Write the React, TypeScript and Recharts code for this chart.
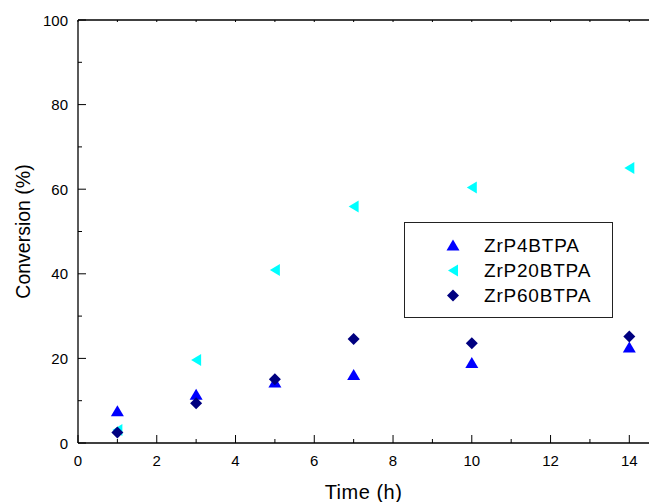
import React from 'react';
import { ScatterChart, Scatter, XAxis, YAxis, Legend } from 'recharts';

// Reaction time (h) and conversion (%) for each catalyst
const times = [1, 3, 5, 7, 10, 14];
const zrP4BTPA = [7.5, 11.4, 14.3, 16.1, 18.9, 22.6];
const zrP20BTPA = [3.1, 19.6, 40.9, 55.9, 60.4, 65.0];
const zrP60BTPA = [2.5, 9.4, 15.1, 24.6, 23.6, 25.2];

const xTicks = [0, 1, 2, 3, 4, 5, 6, 7, 8, 9, 10, 11, 12, 13, 14];
const yTicks = [0, 10, 20, 30, 40, 50, 60, 70, 80, 90, 100];

const FONT = '"Liberation Sans", Arial, Helvetica, sans-serif';

const toPoints = (vals: number[]) => times.map((t, i) => ({ t, v: vals[i] }));

type ShapeKind = 'up' | 'left' | 'diamond';

const Marker = ({ cx, cy, kind, color }: { cx: number; cy: number; kind: ShapeKind; color: string }) => {
  let pts = '';
  if (kind === 'up') {
    pts = `${cx},${cy - 6} ${cx + 6.5},${cy + 5} ${cx - 6.5},${cy + 5}`;
  } else if (kind === 'left') {
    pts = `${cx - 5},${cy} ${cx + 5},${cy - 6} ${cx + 5},${cy + 6}`;
  } else {
    pts = `${cx},${cy - 6} ${cx + 6},${cy} ${cx},${cy + 6} ${cx - 6},${cy}`;
  }
  return <polygon points={pts} fill={color} stroke="none" />;
};

const seriesList = [
  { name: 'ZrP4BTPA', data: toPoints(zrP4BTPA), color: '#0000FF', kind: 'up' as ShapeKind },
  { name: 'ZrP20BTPA', data: toPoints(zrP20BTPA), color: '#00FFFF', kind: 'left' as ShapeKind },
  { name: 'ZrP60BTPA', data: toPoints(zrP60BTPA), color: '#000080', kind: 'diamond' as ShapeKind },
];

const BottomTick = (props: any) => {
  const { x, y, payload } = props;
  const major = payload.value % 2 === 0;
  return (
    <g>
      <line x1={x} x2={x} y1={y} y2={y - (major ? 8 : 4)} stroke="#000" strokeWidth={1} />
      {major && (
        <text x={x} y={y + 23} textAnchor="middle" fontSize={15} fontFamily={FONT} fill="#000">
          {payload.value}
        </text>
      )}
    </g>
  );
};

const TopTick = (props: any) => {
  const { x, y } = props;
  return <line x1={x} x2={x} y1={y} y2={y + 2} stroke="#000" strokeWidth={1} />;
};

const LeftTick = (props: any) => {
  const { x, y, payload } = props;
  const major = payload.value % 20 === 0;
  return (
    <g>
      <line x1={x} x2={x + (major ? 8 : 4)} y1={y} y2={y} stroke="#000" strokeWidth={1} />
      {major && (
        <text x={x - 10} y={y + 5.5} textAnchor="end" fontSize={15} fontFamily={FONT} fill="#000">
          {payload.value}
        </text>
      )}
    </g>
  );
};

const LegendBox = () => (
  <div
    style={{
      boxSizing: 'border-box',
      width: 209,
      height: 96,
      border: '1px solid #222',
      background: '#fff',
      paddingTop: 10,
      fontFamily: FONT,
      fontSize: 19,
      color: '#000',
    }}
  >
    {seriesList.map((s) => (
      <div key={s.name} style={{ display: 'flex', alignItems: 'center', height: 25 }}>
        <svg width={79} height={25} style={{ display: 'block' }}>
          <Marker cx={48} cy={12.5} kind={s.kind} color={s.color} />
        </svg>
        <span style={{ lineHeight: '25px', letterSpacing: 0.8 }}>{s.name}</span>
      </div>
    ))}
  </div>
);

const YTitle = (props: any) => {
  const { x, y, height } = props.viewBox;
  const cx = x + 23;
  const cy = y + height / 2;
  return (
    <text
      x={cx}
      y={cy}
      transform={`rotate(-90 ${cx} ${cy})`}
      textAnchor="middle"
      dominantBaseline="central"
      fontSize={19.5}
      fontFamily={FONT}
      fill="#000"
    >
      Conversion (%)
    </text>
  );
};

const XTitle = (props: any) => {
  const { x, y, width } = props.viewBox;
  return (
    <text
      x={x + width / 2}
      y={y + 56}
      textAnchor="middle"
      fontSize={20}
      fontFamily={FONT}
      fill="#000"
      letterSpacing={0.5}
    >
      Time (h)
    </text>
  );
};

export default function App() {
  return (
    <div style={{ position: 'absolute', left: 0, top: 0, background: '#fff' }}>
      <ScatterChart width={649} height={502} margin={{ top: 0, right: 0, bottom: 0, left: 0 }}>
        <XAxis
          xAxisId="bottom"
          type="number"
          dataKey="t"
          domain={[0, 14.5]}
          ticks={xTicks}
          interval={0}
          height={59}
          tickSize={0}
          tickMargin={0}
          tickLine={false}
          tick={BottomTick}
          axisLine={{ stroke: '#000', strokeWidth: 1.3 }}
          allowDataOverflow
          label={{ content: XTitle }}
        />
        <XAxis
          xAxisId="top"
          orientation="top"
          type="number"
          dataKey="t"
          domain={[0, 14.5]}
          ticks={xTicks}
          interval={0}
          height={20}
          tickSize={0}
          tickMargin={0}
          tickLine={false}
          tick={TopTick}
          axisLine={{ stroke: '#000', strokeWidth: 1.3 }}
          allowDataOverflow
        />
        <YAxis
          type="number"
          dataKey="v"
          domain={[0, 100]}
          ticks={yTicks}
          interval={0}
          width={78}
          tickSize={0}
          tickMargin={0}
          tickLine={false}
          tick={LeftTick}
          axisLine={{ stroke: '#000', strokeWidth: 1.3 }}
          label={{ content: YTitle }}
        />
        <Legend
          layout="horizontal"
          verticalAlign="middle"
          align="center"
          content={LegendBox}
          wrapperStyle={{ position: 'absolute', left: 404, top: 222, width: 209, height: 96 }}
        />
        {seriesList.map((s) => (
          <Scatter
            key={s.name}
            name={s.name}
            data={s.data}
            xAxisId="bottom"
            fill={s.color}
            isAnimationActive={false}
            shape={(p: any) => <Marker cx={p.cx} cy={p.cy} kind={s.kind} color={s.color} />}
          />
        ))}
      </ScatterChart>
    </div>
  );
}
